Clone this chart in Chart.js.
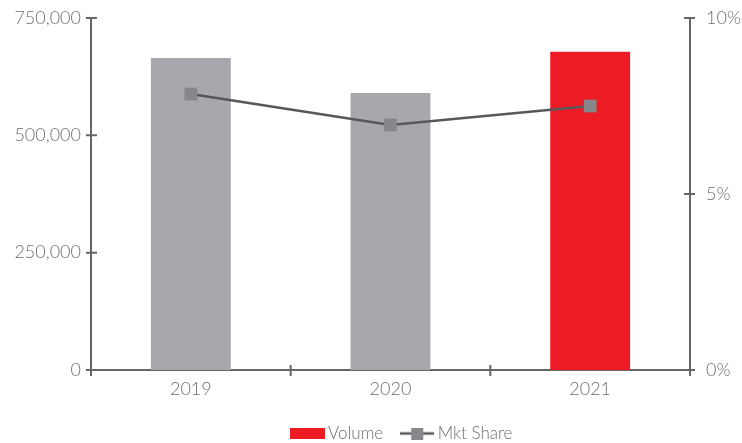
<!DOCTYPE html>
<html>
<head>
<meta charset="utf-8">
<script src="https://cdn.jsdelivr.net/npm/chart.js@4"></script>
<style>
  html, body { margin: 0; padding: 0; background: #fff; }
  #wrap { width: 742px; height: 443px; }
</style>
</head>
<body>
<div id="wrap"><canvas id="volChart" width="742" height="443"></canvas></div>
<script>
// Dữ liệu
const years = ['2019', '2020', '2021'];
const volume = [665000, 590000, 678000];
const mktShare = [0.0784, 0.0696, 0.075];
const barColors = ['#a7a8ac', '#a7a8ac', '#ed1c24'];
const leftTicks = [0, 250000, 500000, 750000];
const rightTicks = [0, 0.05, 0.1];

const axisColor = '#666667';
const textColor = '#6d6e71';
const fontFamily = 'Lato, "Open Sans", sans-serif';

// Biểu tượng chú thích vẽ bằng canvas nhỏ
function legendBox() {
    const c = document.createElement('canvas');
    c.width = 35; c.height = 11;
    const g = c.getContext('2d');
    g.fillStyle = '#ed1c24';
    g.fillRect(0, 0, 35, 11);
    return c;
}
function legendLine() {
    const c = document.createElement('canvas');
    c.width = 34; c.height = 12;
    const g = c.getContext('2d');
    g.strokeStyle = '#58585a';
    g.lineWidth = 2.5;
    g.beginPath(); g.moveTo(0, 6); g.lineTo(34, 6); g.stroke();
    g.fillStyle = '#87868a';
    g.fillRect(11, 0, 12, 12);
    return c;
}

// Vạch chia dạng chữ thập trên các trục
const crossTicks = {
    id: 'crossTicks',
    afterDraw(chart) {
        const ctx = chart.ctx;
        const { x, y, y1 } = chart.scales;
        ctx.save();
        ctx.strokeStyle = axisColor;
        ctx.lineWidth = 2;
        ctx.beginPath();
        for (let i = 0; i <= years.length; i++) {
            const px = x.getPixelForValue(i - 0.5);
            ctx.moveTo(px, x.top - 5);
            ctx.lineTo(px, x.top + 6);
        }
        leftTicks.forEach(v => {
            const py = y.getPixelForValue(v);
            ctx.moveTo(y.right - 5, py);
            ctx.lineTo(y.right + 6, py);
        });
        rightTicks.forEach(v => {
            const py = y1.getPixelForValue(v);
            ctx.moveTo(y1.left - 6, py);
            ctx.lineTo(y1.left + 5, py);
        });
        ctx.stroke();
        ctx.restore();
    }
};

// Dời chú thích sang phải một chút
const legendShift = {
    id: 'legendShift',
    afterLayout(chart) {
        const l = chart.legend;
        l.left += 33; l.right += 33;
    }
};

// Bỏ phần đệm tự động của trục dọc
function noPad(scale) {
    scale.paddingTop = 0;
    scale.paddingBottom = 0;
}

const ctx = document.getElementById('volChart').getContext('2d');
const volChart = new Chart(ctx, {
    data: {
        labels: years,
        datasets: [
            {
                type: 'line',
                label: 'Mkt Share',
                data: mktShare,
                yAxisID: 'y1',
                borderColor: '#58585a',
                borderWidth: 2.5,
                pointStyle: 'rect',
                pointRadius: 9,
                pointBackgroundColor: '#87868a',
                pointBorderWidth: 0,
                tension: 0,
                order: 0
            },
            {
                type: 'bar',
                label: 'Volume',
                data: volume,
                yAxisID: 'y',
                backgroundColor: barColors,
                borderWidth: 0,
                barPercentage: 0.4,
                categoryPercentage: 1,
                order: 1
            }
        ]
    },
    plugins: [crossTicks, legendShift],
    options: {
        responsive: false,
        animation: false,
        layout: { padding: { top: 18, left: 0, right: 0, bottom: -9 } },
        plugins: {
            tooltip: { enabled: false },
            legend: {
                position: 'bottom',
                labels: {
                    usePointStyle: true,
                    pointStyleWidth: 24,
                    padding: 22,
                    color: textColor,
                    font: { family: fontFamily, size: 17, weight: 300 },
                    generateLabels() {
                        return [
                            { text: 'Volume', pointStyle: legendBox(), fillStyle: '#ed1c24', strokeStyle: '#ed1c24', lineWidth: 0, fontColor: textColor, datasetIndex: 1 },
                            { text: 'Mkt Share', pointStyle: legendLine(), fillStyle: '#87868a', strokeStyle: '#58585a', lineWidth: 0, fontColor: textColor, datasetIndex: 0 }
                        ];
                    }
                }
            }
        },
        scales: {
            x: {
                grid: { display: false, drawTicks: false },
                border: { display: true, color: axisColor, width: 2 },
                ticks: {
                    color: textColor,
                    padding: 8,
                    font: { family: fontFamily, size: 18, weight: 300 }
                },
                afterFit(scale) { scale.height = 33; }
            },
            y: {
                position: 'left',
                min: 0,
                max: 750000,
                grid: { display: false, drawTicks: false },
                border: { display: true, color: axisColor, width: 2 },
                afterBuildTicks(scale) { scale.ticks = leftTicks.map(v => ({ value: v })); },
                ticks: {
                    color: textColor,
                    padding: 10,
                    font: { family: fontFamily, size: 18, weight: 300 },
                    callback: v => v.toLocaleString('en-US')
                },
                afterFit(scale) { scale.width = 91; noPad(scale); }
            },
            y1: {
                position: 'right',
                min: 0,
                max: 0.1,
                grid: { display: false, drawTicks: false },
                border: { display: true, color: axisColor, width: 2 },
                afterBuildTicks(scale) { scale.ticks = rightTicks.map(v => ({ value: v })); },
                ticks: {
                    color: textColor,
                    padding: 16,
                    font: { family: fontFamily, size: 18, weight: 300 },
                    callback: v => Math.round(v * 100) + '%'
                },
                afterFit(scale) { scale.width = 52; noPad(scale); }
            }
        }
    }
});
</script>
</body>
</html>
